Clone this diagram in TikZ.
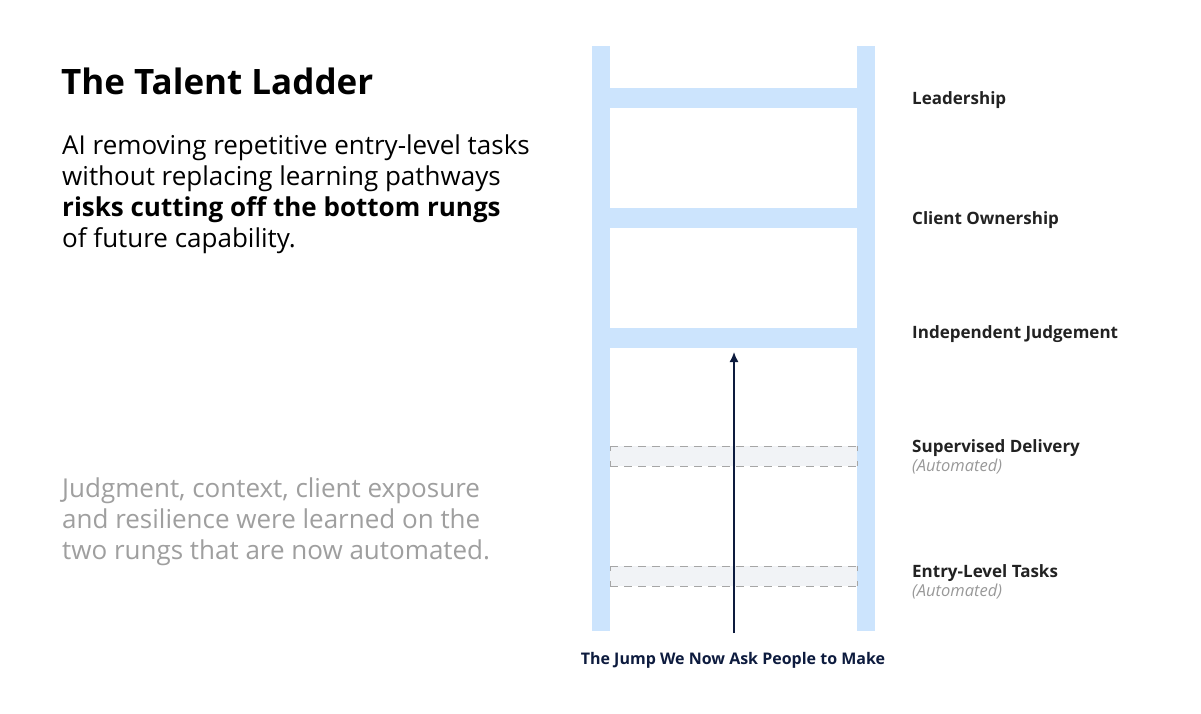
\documentclass[tikz,border=0pt]{standalone}
\usepackage{fontspec}
\setmainfont{Open Sans}
\usetikzlibrary{arrows.meta}
\begin{document}
\begin{tikzpicture}[x=1pt,y=-1pt,
  rail/.style={fill=railc,draw=none},
  auto/.style={fill=autoc,draw=none},
  dashrung/.style={draw=gray!70,line width=0.8pt, dash pattern=on 8pt off 6pt},
  lab/.style={anchor=west,font=\fontsize{17}{20}\selectfont\bfseries,text=labc,inner sep=0},
  sub/.style={anchor=west,font=\fontsize{16.5}{19}\selectfont\itshape,text=gray!80,inner sep=0},
  body/.style={anchor=north west,align=left,inner sep=0,font=\fontsize{26}{31}\selectfont}]
\definecolor{railc}{HTML}{CCE4FD}
\definecolor{autoc}{HTML}{F1F3F6}
\definecolor{labc}{HTML}{222222}
\definecolor{navy}{HTML}{0D1B3E}
\useasboundingbox (0,0) rectangle (1201,714);
\fill[white] (0,0) rectangle (1201,714);
% rails
\fill[rail] (592,46) rectangle (610,631);
\fill[rail] (857,46) rectangle (875,631);
\fill[rail] (592,88) rectangle (875,108);
\fill[rail] (592,208) rectangle (875,228);
\fill[rail] (592,328) rectangle (875,348);
% automated rungs
\foreach \y in {446,566}{
  \fill[auto] (610,\y) rectangle (857,\y+20);
  \draw[dashrung] (610,\y) -- (857,\y);
  \draw[dashrung] (610,\y+20) -- (857,\y+20);
  \draw[gray!70,line width=0.8pt] (610,\y) -- (610,\y+5) (610,\y+15) -- (610,\y+20) (857,\y) -- (857,\y+5) (857,\y+15) -- (857,\y+20);
}
% arrow
\coordinate (a0) at (734,633);
\coordinate (a1) at (734,352);
\draw[navy,line width=1.5pt,-{Latex[length=10pt,width=9pt]}] (a0) -- (a1);
\node[font=\fontsize{16}{19}\selectfont\bfseries,text=navy] (jump) at (733,660) {The Jump We Now Ask People to Make};
% labels
\node[lab] (l1) at (912,100) {Leadership};
\node[lab] (l2) at (912,220) {Client Ownership};
\node[lab] (l3) at (912,334) {Independent Judgement};
\node[lab] (l4) at (912,448) {Supervised Delivery};
\node[sub] (s4) at (912,467) {(Automated)};
\node[lab] (l5) at (912,573) {Entry-Level Tasks};
\node[sub] (s5) at (912,592) {(Automated)};
% left text
\node[anchor=west,inner sep=0,font=\fontsize{35}{40}\selectfont\bfseries] (title) at (61,81) {The Talent Ladder};
\node[body] (b1) at (62,135) {AI removing repetitive entry-level tasks\\without replacing learning pathways\\\textbf{risks cutting off the bottom rungs}\\of future capability.};
\node[body,text=gray!75] (b2) at (62,478) {Judgment, context, client exposure\\and resilience were learned on the\\two rungs that are now automated.};
\end{tikzpicture}
\end{document}
